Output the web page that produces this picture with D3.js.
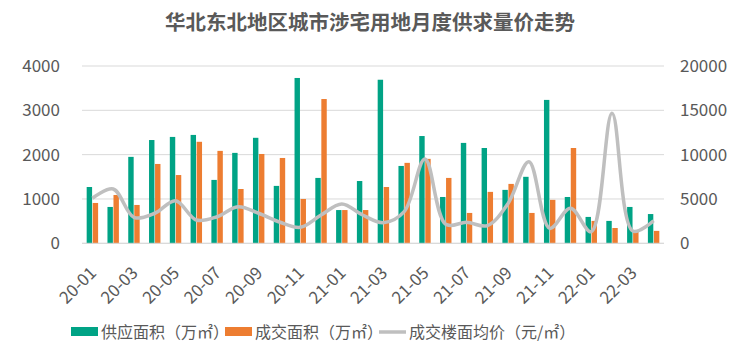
<!DOCTYPE html>
<html><head><meta charset="utf-8">
<script src="https://cdn.jsdelivr.net/npm/d3@7"></script>
<style>body{margin:0;background:#fff}svg{display:block}</style>
</head><body>
<svg id="c" width="742" height="360"></svg>
<script>
const months = ["20-01","20-02","20-03","20-04","20-05","20-06","20-07","20-08","20-09","20-10","20-11","20-12",
"21-01","21-02","21-03","21-04","21-05","21-06","21-07","21-08","21-09","21-10","21-11","21-12",
"22-01","22-02","22-03","22-04"];
const supply = [1270,820,1950,2330,2400,2445,1430,2040,2380,1295,3730,1475,750,1405,3690,1745,2420,1045,2265,2150,1205,1500,3235,1045,595,505,820,660];
const deal = [910,1090,865,1790,1540,2290,2085,1225,2015,1925,1000,3255,750,750,1270,1815,1905,1475,685,1160,1340,685,980,2150,505,345,255,280];
const price = [5080,6130,2930,3390,4810,2630,3000,4130,3390,2400,1800,3190,4440,3190,2330,3570,9520,2140,2370,1990,4500,9210,1690,3950,1310,14670,1390,2550];
const leftTicks = [0,1000,2000,3000,4000];
const rightTicks = [0,5000,10000,15000,20000];
const seriesNames = ["供应面积（万㎡）","成交面积（万㎡）","成交楼面均价（元/㎡）"];
const title = "华北东北地区城市涉宅用地月度供求量价走势";

const svg = d3.select("#c");
const font = "'Noto Sans CJK SC', 'Noto Sans', sans-serif";
const L = 82, R = 664, T = 66, B = 243.3;
const x = d3.scaleBand().domain(months).range([L, R]).paddingInner(0.45).paddingOuter(0.225);
const xs = d3.scaleBand().domain(["s","d"]).range([0, x.bandwidth()]).paddingInner(0.1);
const yL = d3.scaleLinear().domain([0,4000]).range([B, T]);
const yR = d3.scaleLinear().domain([0,20000]).range([B, T]);
const cx = m => x(m) + x.bandwidth()/2;

svg.append("text").attr("x", 370).attr("y", 30).attr("text-anchor","middle")
  .attr("font-family", font).attr("font-weight","bold").attr("font-size", 20.5).attr("fill","#595959").text(title);

svg.append("g").selectAll("line").data(leftTicks).join("line")
  .attr("x1", L).attr("x2", R).attr("y1", d=>yL(d)).attr("y2", d=>yL(d))
  .attr("stroke", "#d9d9d9").attr("stroke-width", 1);

const gl = svg.append("g").attr("transform", `translate(${L},0)`)
  .call(d3.axisLeft(yL).tickValues(leftTicks).tickSize(0).tickPadding(22).tickFormat(d3.format("d")));
gl.select(".domain").remove();
gl.selectAll("text").attr("font-family", font).attr("font-size", 17).attr("fill","#595959");

const gr = svg.append("g").attr("transform", `translate(${R},0)`)
  .call(d3.axisRight(yR).tickValues(rightTicks).tickSize(0).tickPadding(16).tickFormat(d3.format("d")));
gr.select(".domain").remove();
gr.selectAll("text").attr("font-family", font).attr("font-size", 17).attr("fill","#595959");

svg.append("g").selectAll("rect").data(months).join("rect")
  .attr("x", m => x(m) + xs("s")).attr("width", xs.bandwidth())
  .attr("y", (m,i) => yL(supply[i])).attr("height", (m,i) => B - yL(supply[i]))
  .attr("fill", "#00A385");
svg.append("g").selectAll("rect").data(months).join("rect")
  .attr("x", m => x(m) + xs("d")).attr("width", xs.bandwidth())
  .attr("y", (m,i) => yL(deal[i])).attr("height", (m,i) => B - yL(deal[i]))
  .attr("fill", "#ED7D31");

const line = d3.line().x((d,i)=>cx(months[i])).y(d=>yR(d)).curve(d3.curveCatmullRom.alpha(0.5));
svg.append("path").datum(price).attr("d", line).attr("fill","none")
  .attr("stroke","#BFBFBF").attr("stroke-width",3.5);

const xl = svg.append("g");
months.forEach((m,i) => {
  if (i % 2 !== 0) return;
  xl.append("text").attr("transform", `translate(${cx(m)+5},${274}) rotate(-45)`)
    .attr("text-anchor","end").attr("font-family", font).attr("font-size", 17).attr("fill","#595959").text(m);
});
svg.append("line").attr("x1",L).attr("x2",R).attr("y1",B).attr("y2",B).attr("stroke","#d9d9d9");

const lg = svg.append("g");
const lx = [71, 225, 379];
const colors = ["#00A385","#ED7D31","#BFBFBF"];
seriesNames.forEach((n,i) => {
  if (i < 2) lg.append("rect").attr("x", lx[i]).attr("y", 327).attr("width", 27).attr("height", 9).attr("fill", colors[i]);
  else lg.append("line").attr("x1", lx[i]).attr("x2", lx[i]+27).attr("y1", 332).attr("y2", 332).attr("stroke", colors[i]).attr("stroke-width", 3.5);
  lg.append("text").attr("x", lx[i]+30).attr("y", 338).attr("font-family", font).attr("font-size", 16).attr("fill","#595959").text(n);
});
</script>
</body></html>
